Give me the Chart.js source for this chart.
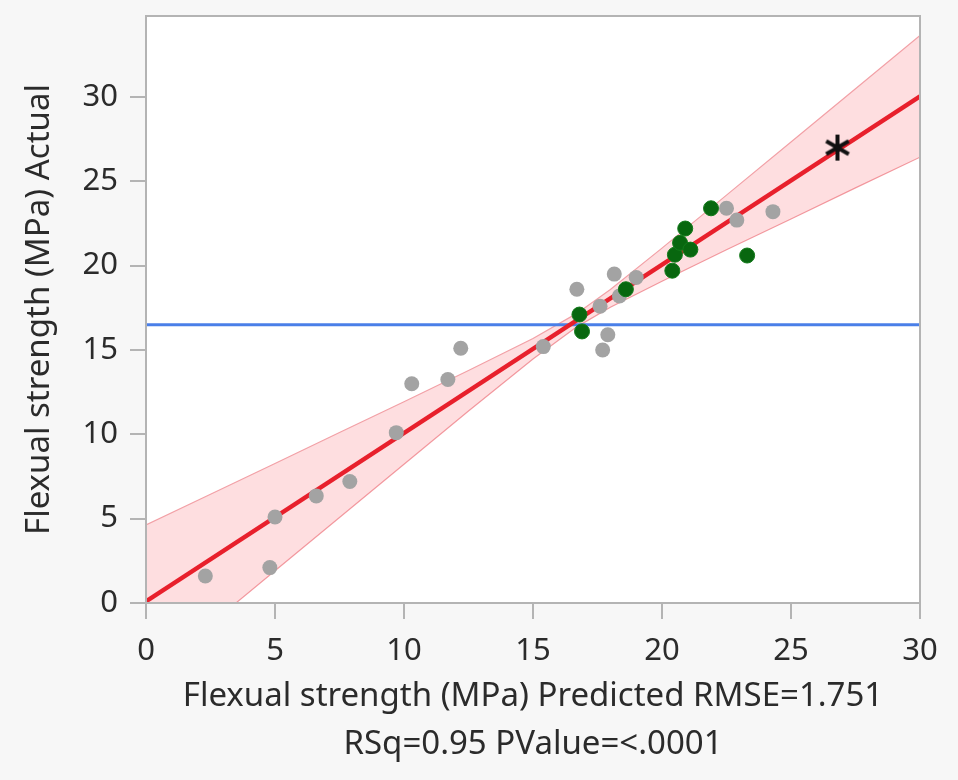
<!DOCTYPE html>
<html>
<head>
<meta charset="utf-8">
<script src="https://cdn.jsdelivr.net/npm/chart.js@4"></script>
<style>
  body { margin: 0; background: #f7f7f7; }
  canvas { display: block; }
</style>
</head>
<body>
<canvas id="myChart" width="958" height="780"></canvas>
<script>
// gray = training rows, green = validation rows, star = new mix
var grayX = [2.3, 4.8, 5.0, 6.6, 7.9, 9.7, 10.3, 11.7, 12.2, 15.4, 16.7, 17.6, 17.7, 17.9, 18.15, 18.35, 19.0, 22.5, 22.9, 24.3];
var grayY = [1.6, 2.1, 5.1, 6.35, 7.2, 10.1, 13.0, 13.25, 15.1, 15.2, 18.6, 17.6, 15.0, 15.9, 19.5, 18.2, 19.3, 23.4, 22.7, 23.2];
var greenX = [16.8, 16.9, 18.6, 20.4, 20.5, 20.7, 20.9, 21.1, 21.9, 23.3];
var greenY = [17.1, 16.1, 18.6, 19.7, 20.65, 21.35, 22.2, 20.95, 23.4, 20.6];
var starX = [26.8];
var starY = [27.0];

// fit line, mean line and confidence band
var fitX = [0, 30];
var fitY = [0.1, 30.04];
var meanY = 16.5;
var bandX = [0, 2.5, 5, 7.5, 10, 12.5, 15, 16.7, 18, 20, 22.5, 25, 27.5, 30];
var bandUpper = [4.63, 6.45, 8.27, 10.11, 11.93, 13.78, 15.68, 17.17, 18.59, 21.04, 24.18, 27.33, 30.49, 33.65];
var bandLower = [-4.43, -1.25, 1.91, 5.07, 8.23, 11.38, 14.46, 16.37, 17.53, 19.08, 20.94, 22.77, 24.61, 26.43];

var xTicks = [0, 5, 10, 15, 20, 25, 30];
var yTicks = [0, 5, 10, 15, 20, 25, 30];

function pts(xs, ys) {
  return xs.map(function (x, i) { return { x: x, y: ys[i] }; });
}

// six-armed asterisk like the JMP marker
var star = document.createElement('canvas');
star.width = 30; star.height = 30;
var sc = star.getContext('2d');
sc.strokeStyle = '#111';
sc.lineWidth = 4;
sc.lineCap = 'butt';
for (var k = 0; k < 3; k++) {
  var a = Math.PI / 2 + k * Math.PI / 3;
  sc.beginPath();
  sc.moveTo(15 + Math.cos(a) * 13, 15 + Math.sin(a) * 13);
  sc.lineTo(15 - Math.cos(a) * 13, 15 - Math.sin(a) * 13);
  sc.stroke();
}

var plotFrame = {
  id: 'plotFrame',
  beforeDraw: function (chart) {
    var c = chart.ctx, a = chart.chartArea;
    c.save();
    c.fillStyle = '#ffffff';
    c.fillRect(a.left, a.top, a.right - a.left, a.bottom - a.top);
    c.restore();
  },
  afterDraw: function (chart) {
    var c = chart.ctx, a = chart.chartArea;
    c.save();
    c.strokeStyle = '#b4b4b4';
    c.lineWidth = 2;
    c.strokeRect(a.left, a.top, a.right - a.left, a.bottom - a.top);
    c.restore();
  }
};

var tickFont = { family: 'Noto Sans', size: 31 };
var yTickFont = { family: 'Noto Sans', size: 31, lineHeight: 0.6 };
var titleFont = { family: 'Noto Sans', size: 33 };

var ctx = document.getElementById('myChart').getContext('2d');
var myChart = new Chart(ctx, {
  type: 'scatter',
  data: {
    datasets: [
      {
        label: 'star',
        data: pts(starX, starY),
        pointStyle: star,
        pointRadius: 15,
        order: 0
      },
      {
        label: 'green',
        data: pts(greenX, greenY),
        backgroundColor: '#08670f',
        borderColor: '#127a1a',
        borderWidth: 1,
        pointRadius: 7.5,
        order: 1
      },
      {
        label: 'gray',
        data: pts(grayX, grayY),
        backgroundColor: '#a3a3a3',
        borderColor: '#a3a3a3',
        borderWidth: 0,
        pointRadius: 7.5,
        order: 2
      },
      {
        label: 'fit',
        type: 'line',
        data: pts(fitX, fitY),
        borderColor: '#e8202c',
        borderWidth: 4.5,
        pointRadius: 0,
        fill: false,
        order: 3
      },
      {
        label: 'mean',
        type: 'line',
        data: pts(fitX, [meanY, meanY]),
        borderColor: '#4a7fe8',
        borderWidth: 3,
        pointRadius: 0,
        fill: false,
        order: 4
      },
      {
        label: 'upper',
        type: 'line',
        data: pts(bandX, bandUpper),
        borderColor: '#f2a0a6',
        borderWidth: 1.2,
        backgroundColor: 'rgba(248, 90, 100, 0.2)',
        pointRadius: 0,
        fill: '+1',
        order: 5
      },
      {
        label: 'lower',
        type: 'line',
        data: pts(bandX, bandLower),
        borderColor: '#f2a0a6',
        borderWidth: 1.2,
        pointRadius: 0,
        fill: false,
        order: 6
      }
    ]
  },
  options: {
    responsive: false,
    animation: false,
    layout: { padding: { left: 0, top: 12, right: 38, bottom: 0 } },
    plugins: {
      legend: { display: false },
      tooltip: { enabled: false }
    },
    scales: {
      x: {
        type: 'linear',
        min: 0,
        max: 30,
        afterBuildTicks: function (s) { s.ticks = xTicks.map(function (v) { return { value: v }; }); },
        afterFit: function (s) { s.height = 177; s.paddingLeft = 0; s.paddingRight = 0; },
        border: { color: '#b4b4b4', width: 2 },
        grid: { drawOnChartArea: false, drawTicks: true, tickLength: 16, color: '#b4b4b4', lineWidth: 2 },
        ticks: { color: '#2b2b2b', font: tickFont, padding: 14, maxRotation: 0 },
        title: {
          display: true,
          text: ['Flexual strength (MPa) Predicted RMSE=1.751', 'RSq=0.95 PValue=<.0001'],
          color: '#2b2b2b',
          font: { family: 'Noto Sans', size: 33, lineHeight: '48px' },
          padding: { top: 0, bottom: 11 }
        }
      },
      y: {
        type: 'linear',
        min: 0,
        max: 34.8,
        afterBuildTicks: function (s) { s.ticks = yTicks.map(function (v) { return { value: v }; }); },
        afterFit: function (s) { s.width = 146; s.paddingTop = 0; s.paddingBottom = 0; },
        border: { color: '#b4b4b4', width: 2 },
        grid: { drawOnChartArea: false, drawTicks: true, tickLength: 16, color: '#b4b4b4', lineWidth: 2 },
        ticks: { color: '#2b2b2b', font: yTickFont, padding: 12 },
        title: {
          display: true,
          text: 'Flexual strength (MPa) Actual',
          color: '#2b2b2b',
          font: titleFont,
          padding: { top: 20, bottom: 0 }
        }
      }
    }
  },
  plugins: [plotFrame]
});
</script>
</body>
</html>
